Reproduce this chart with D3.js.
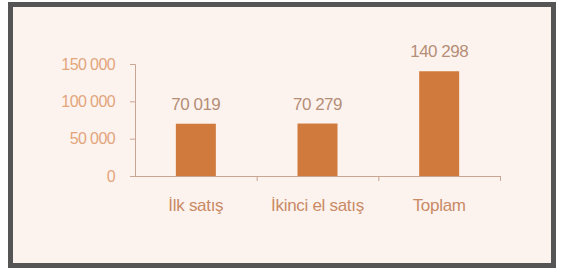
<!DOCTYPE html>
<html>
<head>
<meta charset="utf-8">
<script src="https://cdn.jsdelivr.net/npm/d3@7"></script>
<style>
  html, body { margin: 0; padding: 0; background: #fff; }
  svg { display: block; font-family: Arial, "Liberation Sans", sans-serif; }
</style>
</head>
<body>
<svg id="chart" width="563" height="272"></svg>
<script>
const categories = ['İlk satış', 'İkinci el satış', 'Toplam'];
const values = [70019, 70279, 140298];
const yTicks = [0, 50000, 100000, 150000];

const width = 563, height = 272;
const svg = d3.select('#chart');

// frame
svg.append('rect')
  .attr('x', 10.5).attr('y', 4.5)
  .attr('width', 543).attr('height', 261)
  .attr('fill', '#fdf3ee')
  .attr('stroke', '#555')
  .attr('stroke-width', 5);

const plot = { left: 135, right: 500, top: 64, bottom: 176 };

const x = d3.scaleBand()
  .domain(categories)
  .range([plot.left, plot.right])
  .paddingInner(0)
  .paddingOuter(0);

const y = d3.scaleLinear()
  .domain([0, 150000])
  .range([plot.bottom, plot.top]);

const fmt = v => d3.format(',')(v).replace(/,/g, ' ');

// y axis
const yAxis = svg.append('g')
  .attr('transform', `translate(${plot.left},0)`)
  .call(d3.axisLeft(y).tickValues(yTicks).tickSize(5).tickPadding(15).tickFormat(fmt));
yAxis.select('.domain').attr('stroke', '#c9a593');
yAxis.selectAll('.tick line').attr('stroke', '#c9a593');
yAxis.selectAll('.tick text')
  .attr('fill', '#e2a57c')
  .style('font-size', '16px')
  .style('letter-spacing', '-0.6px');

// bars
svg.append('g').selectAll('rect')
  .data(values)
  .enter()
  .append('rect')
  .attr('x', (d, i) => x(categories[i]) + x.bandwidth() / 2 - 20)
  .attr('y', d => y(d))
  .attr('width', 40)
  .attr('height', d => y(0) - y(d))
  .attr('fill', '#d07b3d');

// x axis
const xAxis = svg.append('g')
  .attr('transform', `translate(0,${plot.bottom})`);
xAxis.append('line')
  .attr('x1', plot.left).attr('x2', plot.right)
  .attr('y1', 0.5).attr('y2', 0.5)
  .attr('stroke', '#c9a593');
xAxis.selectAll('line.tk')
  .data(categories)
  .enter()
  .append('line')
  .attr('class', 'tk')
  .attr('x1', d => x(d) + x.bandwidth() + 0.5)
  .attr('x2', d => x(d) + x.bandwidth() + 0.5)
  .attr('y1', 0).attr('y2', 5)
  .attr('stroke', '#c9a593');
xAxis.selectAll('text')
  .data(categories)
  .enter()
  .append('text')
  .attr('x', d => x(d) + x.bandwidth() / 2)
  .attr('y', 35)
  .attr('text-anchor', 'middle')
  .attr('fill', '#c98a66')
  .style('font-size', '17px')
  .style('letter-spacing', '-0.3px')
  .text(d => d);

// value labels
svg.append('g').selectAll('text')
  .data(values)
  .enter()
  .append('text')
  .attr('x', (d, i) => x(categories[i]) + x.bandwidth() / 2)
  .attr('y', d => y(d) - 14)
  .attr('text-anchor', 'middle')
  .attr('fill', '#b58e78')
  .style('font-size', '17px')
  .style('letter-spacing', '-0.5px')
  .text(fmt);
</script>
</body>
</html>
